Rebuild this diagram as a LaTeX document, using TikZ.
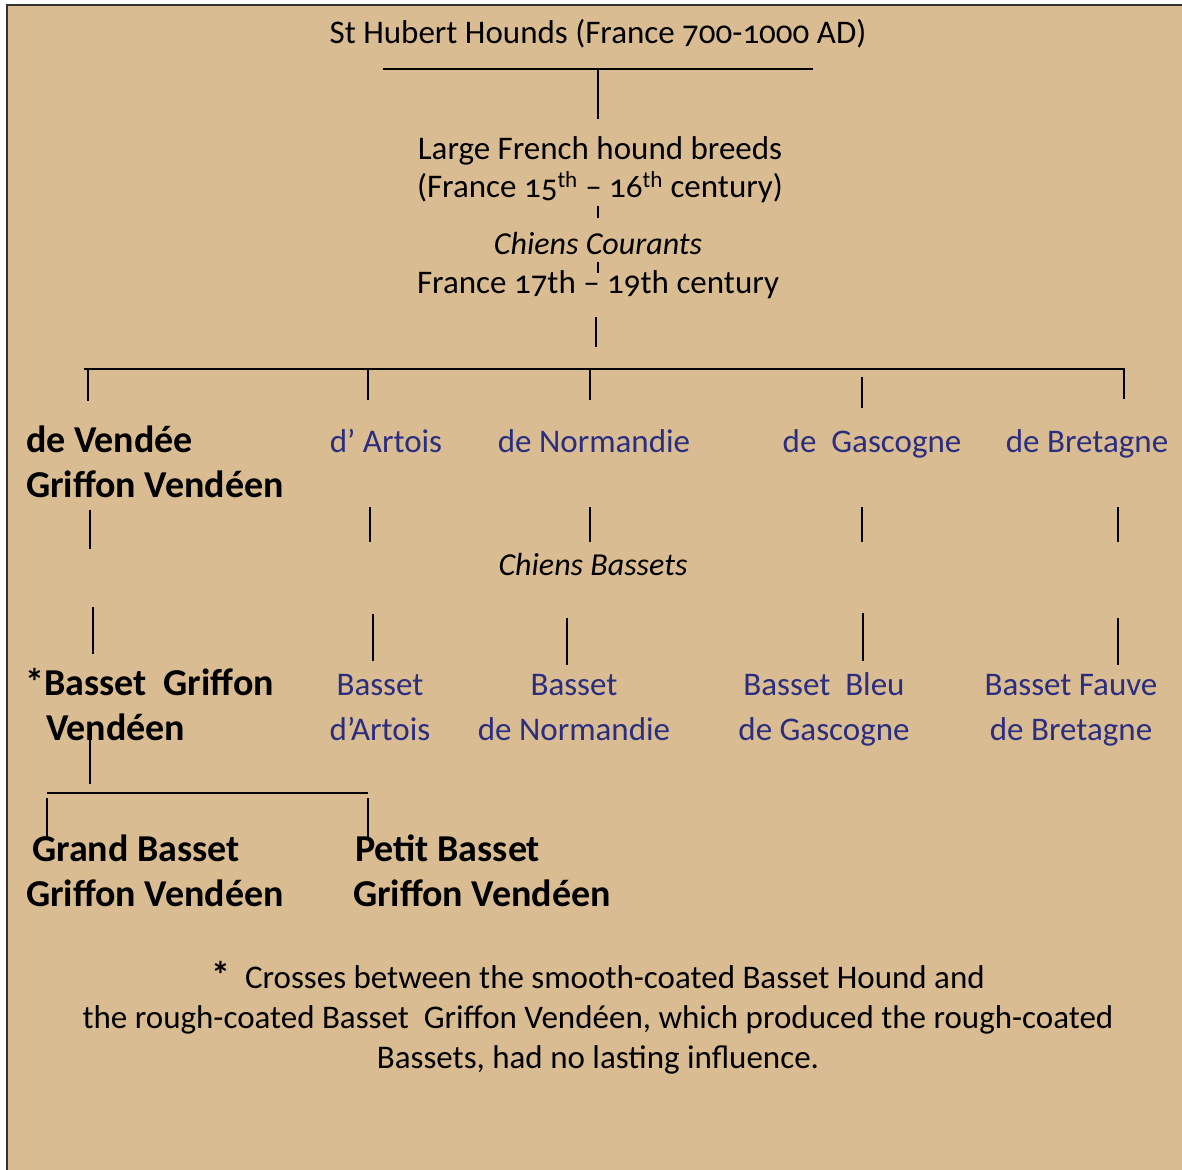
\documentclass[tikz,border=0pt]{standalone}
\usepackage{fontspec}
\setmainfont{Carlito}[Numbers=OldStyle]
\definecolor{parchment}{RGB}{217,188,146}
\definecolor{breedblue}{RGB}{43,45,127}
\definecolor{frame}{RGB}{50,50,50}
\tikzset{
  every node/.style={align=center, inner sep=0pt, anchor=base},
  txt/.style={font=\fontsize{33}{38}\selectfont},
  ital/.style={font=\fontsize{32}{38}\selectfont\itshape},
  heavy/.style={font=\fontsize{38}{45}\selectfont\bfseries, align=left, anchor=base west},
  breed/.style={font=\fontsize{33}{45}\selectfont, text=breedblue},
  note/.style={font=\fontsize{33}{39.7}\selectfont},
  link/.style={line width=2pt},
}
\begin{document}
\begin{tikzpicture}[x=1pt, y=-1pt]
  \useasboundingbox (0,0) rectangle (1182,1169);
  \fill[parchment] (6,4) rectangle (1190,1180);
  \draw[line width=2.2pt, frame] (7,1180) -- (7,5) -- (1190,5);

  % top of the tree
  \node[txt] (hubert) at (598,44) {St Hubert Hounds (France 700-1000 AD)};
  \node[txt] (large) at (600,197) {Large French hound breeds\\(France 15\textsuperscript{th} – 16\textsuperscript{th} century)};
  \node[ital] (courants) at (598,254) {Chiens Courants};
  \node[txt] (france) at (598,293) {France 17th – 19th century};

  \coordinate (hubL) at (383,69);
  \coordinate (hubR) at (813,69);
  \coordinate (hubM) at (598,69);
  \coordinate (hubD) at (598,119);
  \draw[link] (hubL) -- (hubR);
  \draw[link] (hubM) -- (hubD);
  \coordinate (tickA) at (598,206);
  \coordinate (tickB) at (598,218);
  \draw[link] (tickA) -- (tickB);
  \coordinate (tickC) at (598,262);
  \coordinate (tickD) at (598,273);
  \draw[link] (tickC) -- (tickD);
  \coordinate (franceT) at (596,317);
  \coordinate (franceB) at (596,347);
  \draw[link] (franceT) -- (franceB);

  % the five regional hounds
  \coordinate (barL) at (84,369);
  \coordinate (barR) at (1125,369);
  \draw[link] (barL) -- (barR);
  \foreach \n/\x/\a/\b in {v/88/369/401, a/368/369/400, n/590/369/400, g/862/377/408, b/1124/368/399}{
    \coordinate (up\n) at (\x,\a);
    \coordinate (dn\n) at (\x,\b);
    \draw[link] (up\n) -- (dn\n);
  }

  \node[heavy] (vendee) at (26,497) {de Vendée\\Griffon Vendéen};
  \node[breed] (artois) at (386,452) {d’ Artois};
  \node[breed] (normandie) at (594,452) {de Normandie};
  \node[breed] (gascogne) at (872,452) {de~ Gascogne};
  \node[breed] (bretagne) at (1087,452) {de Bretagne};

  \foreach \n/\x/\a/\b in {v/90/510/549, a/370/507/542, n/590/507/542, g/862/507/542, b/1118/507/542}{
    \coordinate (mu\n) at (\x,\a);
    \coordinate (md\n) at (\x,\b);
    \draw[link] (mu\n) -- (md\n);
  }

  \node[ital] (bassets) at (593,575) {Chiens Bassets};

  \foreach \n/\x/\a/\b in {v/93/607/654, a/373/614/661, n/567/618/665, g/863/613/661, b/1118/618/665}{
    \coordinate (lu\n) at (\x,\a);
    \coordinate (ld\n) at (\x,\b);
    \draw[link] (lu\n) -- (ld\n);
  }

  % the bassets
  \node[heavy] (bgv) at (25,740) {*Basset~ Griffon\\\hspace*{21pt}Vendéen};
  \node[breed] (bartois) at (380,740) {Basset\\d’Artois};
  \node[breed] (bnormandie) at (574,740) {Basset\\de Normandie};
  \node[breed] (bgascogne) at (824,740) {Basset~ Bleu\\de Gascogne};
  \node[breed] (bbretagne) at (1071,740) {Basset Fauve\\de Bretagne};

  \coordinate (gvT) at (90,737);
  \coordinate (gvB) at (90,784);
  \draw[link] (gvT) -- (gvB);
  \coordinate (gvL) at (47,793);
  \coordinate (gvR) at (368,793);
  \draw[link] (gvL) -- (gvR);
  \coordinate (grandT) at (47,798);
  \coordinate (grandB) at (47,837);
  \draw[link] (grandT) -- (grandB);
  \coordinate (petitT) at (368,798);
  \coordinate (petitB) at (368,838);
  \draw[link] (petitT) -- (petitB);

  \node[heavy] (grand) at (26,906) {\hspace*{6pt}Grand Basset\\Griffon Vendéen};
  \node[heavy] (petit) at (353,906) {\hspace*{2pt}Petit Basset\\Griffon Vendéen};

  % footnote
  \node[note] (crosses) at (598,1068) {{\fontsize{38}{38}\selectfont\bfseries *}~ Crosses between the smooth-coated Basset Hound and\\the rough-coated Basset~ Griffon Vendéen, which produced the rough-coated\\Bassets, had no lasting influence.};
\end{tikzpicture}
\end{document}
